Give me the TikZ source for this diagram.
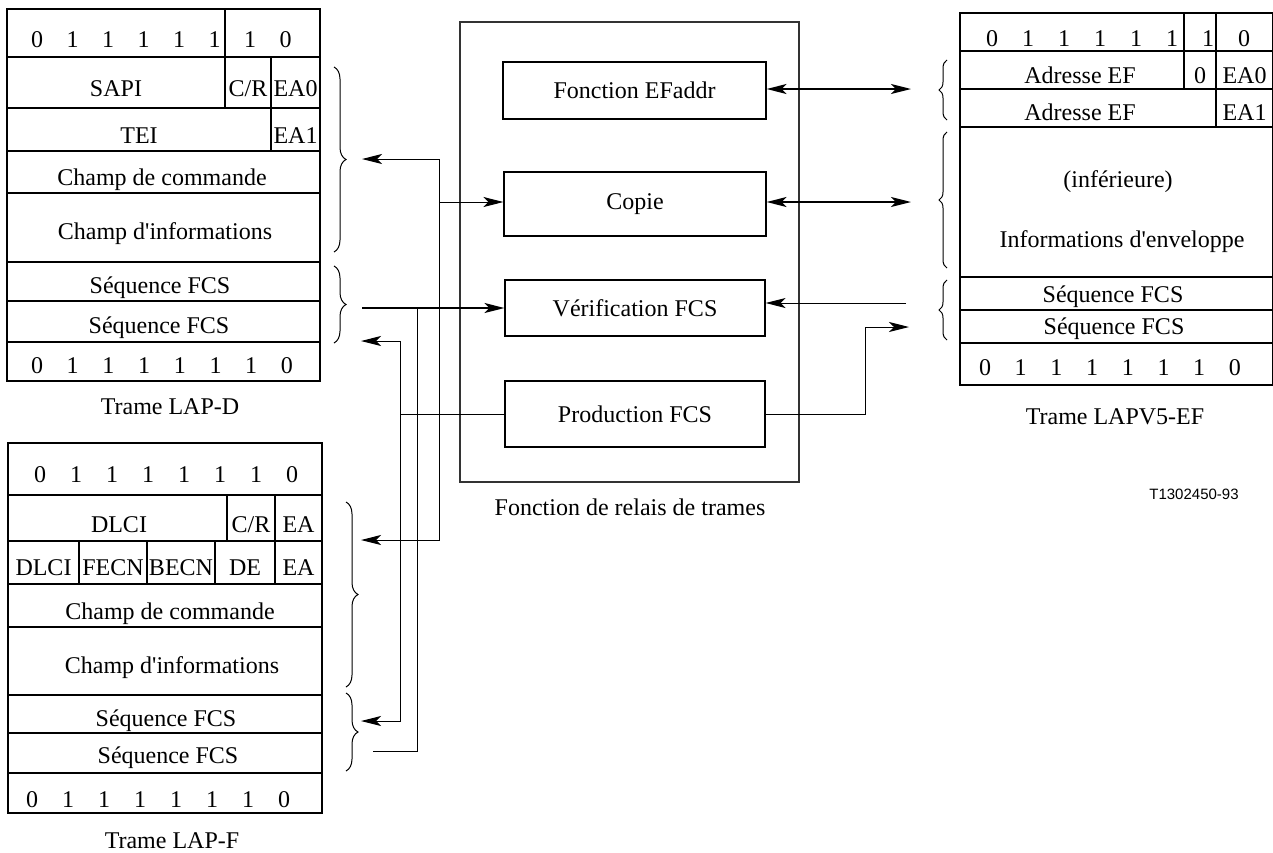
\documentclass[tikz,border=0pt]{standalone}
\usepackage{fontspec}
\setmainfont{Liberation Serif}
\newfontfamily\figsans{Liberation Sans}
\usetikzlibrary{arrows.meta,decorations.pathreplacing,fit,calc}

\begin{document}
\begin{tikzpicture}[x=1pt,y=-1pt,
  >={Stealth[length=20pt,width=10pt,inset=5pt]},
  every node/.style={font=\fontsize{24}{28}\selectfont},
  fieldcell/.style={draw, line width=1.5pt, inner sep=0pt, outer sep=0pt},
  ftxt/.style={anchor=base, inner sep=0pt},
  funcbox/.style={draw, line width=1.1pt, inner sep=0pt},
  relaybox/.style={draw=black!80, line width=1.1pt, inner sep=0pt},
  wire/.style={line width=1pt},
  heavywire/.style={line width=1.8pt},
  bracel/.style={decorate, decoration={brace, amplitude=12pt}, line width=1pt},
  bracer/.style={decorate, decoration={brace, amplitude=8pt}, line width=1pt},
]
\useasboundingbox (0,0) rectangle (1273,852);

% ---------------- LAP-D frame ----------------
\node[fieldcell, fit={(7,9) (225,57)}] (lapd-flagA) {};
\node[fieldcell, fit={(225,9) (320,57)}] (lapd-flagB) {};
\node[fieldcell, fit={(7,57) (225,108)}] (lapd-sapi) {};
\node[fieldcell, fit={(225,57) (271,108)}] (lapd-cr) {};
\node[fieldcell, fit={(271,57) (320,108)}] (lapd-ea0) {};
\node[fieldcell, fit={(7,108) (271,151)}] (lapd-tei) {};
\node[fieldcell, fit={(271,108) (320,151)}] (lapd-ea1) {};
\node[fieldcell, fit={(7,151) (320,193)}] (lapd-cmd) {};
\node[fieldcell, fit={(7,193) (320,262)}] (lapd-info) {};
\node[fieldcell, fit={(7,262) (320,301)}] (lapd-fcs1) {};
\node[fieldcell, fit={(7,301) (320,342)}] (lapd-fcs2) {};
\node[fieldcell, fit={(7,342) (320,381)}] (lapd-flagE) {};

\foreach \d [count=\i from 0] in {0,1,1,1,1,1,1,0}
  \node[ftxt] (lapd-top-\i) at ({37+35.5*\i},47) {\d};
\node[ftxt] (lapd-sapi-t) at (116,96) {SAPI};
\node[ftxt] (lapd-cr-t) at (248,96) {C/R};
\node[ftxt] (lapd-ea0-t) at (295.5,96) {EA0};
\node[ftxt] (lapd-tei-t) at (139,143) {TEI};
\node[ftxt] (lapd-ea1-t) at (295.5,143) {EA1};
\node[ftxt] (lapd-cmd-t) at (162,185) {Champ de commande};
\node[ftxt] (lapd-info-t) at (165,239) {Champ d\textquotesingle informations};
\node[ftxt] (lapd-fcs1-t) at (160,293) {Séquence FCS};
\node[ftxt] (lapd-fcs2-t) at (159,333) {Séquence FCS};
\foreach \d [count=\i from 0] in {0,1,1,1,1,1,1,0}
  \node[ftxt] (lapd-bot-\i) at ({37+35.7*\i},373) {\d};
\node[ftxt] (lapd-cap) at (170,414) {Trame LAP-D};

\draw[bracel] (334,67) -- (334,252);
\draw[bracel] (334,266) -- (334,343);

% ---------------- LAP-F frame ----------------
\node[fieldcell, fit={(8,443) (322,495)}] (lapf-flagA) {};
\node[fieldcell, fit={(8,495) (227,541)}] (lapf-dlci1) {};
\node[fieldcell, fit={(227,495) (275,541)}] (lapf-cr) {};
\node[fieldcell, fit={(275,495) (322,541)}] (lapf-ea1) {};
\node[fieldcell, fit={(8,541) (79,584)}] (lapf-dlci2) {};
\node[fieldcell, fit={(79,541) (147,584)}] (lapf-fecn) {};
\node[fieldcell, fit={(147,541) (215,584)}] (lapf-becn) {};
\node[fieldcell, fit={(215,541) (275,584)}] (lapf-de) {};
\node[fieldcell, fit={(275,541) (322,584)}] (lapf-ea2) {};
\node[fieldcell, fit={(8,584) (322,627)}] (lapf-cmd) {};
\node[fieldcell, fit={(8,627) (322,695)}] (lapf-info) {};
\node[fieldcell, fit={(8,695) (322,733)}] (lapf-fcs1) {};
\node[fieldcell, fit={(8,733) (322,773)}] (lapf-fcs2) {};
\node[fieldcell, fit={(8,773) (322,813)}] (lapf-flagE) {};

\foreach \d [count=\i from 0] in {0,1,1,1,1,1,1,0}
  \node[ftxt] (lapf-top-\i) at ({40+36*\i},482) {\d};
\node[ftxt] (lapf-dlci1-t) at (119,532) {DLCI};
\node[ftxt] (lapf-cr-t) at (251,532) {C/R};
\node[ftxt] (lapf-ea1-t) at (298.5,532) {EA};
\node[ftxt] (lapf-dlci2-t) at (43.5,575) {DLCI};
\node[ftxt] (lapf-fecn-t) at (113,575) {FECN};
\node[ftxt] (lapf-becn-t) at (181,575) {BECN};
\node[ftxt] (lapf-de-t) at (245,575) {DE};
\node[ftxt] (lapf-ea2-t) at (298.5,575) {EA};
\node[ftxt] (lapf-cmd-t) at (170,619) {Champ de commande};
\node[ftxt] (lapf-info-t) at (172,673) {Champ d\textquotesingle informations};
\node[ftxt] (lapf-fcs1-t) at (166,726) {Séquence FCS};
\node[ftxt] (lapf-fcs2-t) at (168,763) {Séquence FCS};
\foreach \d [count=\i from 0] in {0,1,1,1,1,1,1,0}
  \node[ftxt] (lapf-bot-\i) at ({32+36*\i},807) {\d};
\node[ftxt] (lapf-cap) at (172,848) {Trame LAP-F};

\draw[bracel] (346,502) -- (346,687);
\draw[bracel] (346,693) -- (346,771);

% ---------------- LAPV5-EF frame ----------------
\node[fieldcell, fit={(960,13) (1184,51)}] (v5-flagA) {};
\node[fieldcell, fit={(1184,13) (1216,51)}] (v5-flagB) {};
\node[fieldcell, fit={(1216,13) (1273,51)}] (v5-flagC) {};
\node[fieldcell, fit={(960,51) (1184,89)}] (v5-addr1) {};
\node[fieldcell, fit={(1184,51) (1216,89)}] (v5-zero) {};
\node[fieldcell, fit={(1216,51) (1273,89)}] (v5-ea0) {};
\node[fieldcell, fit={(960,89) (1216,127)}] (v5-addr2) {};
\node[fieldcell, fit={(1216,89) (1273,127)}] (v5-ea1) {};
\node[fieldcell, fit={(960,127) (1273,277)}] (v5-info) {};
\node[fieldcell, fit={(960,277) (1273,310)}] (v5-fcs1) {};
\node[fieldcell, fit={(960,310) (1273,343)}] (v5-fcs2) {};
\node[fieldcell, fit={(960,343) (1273,385)}] (v5-flagE) {};

\foreach \d [count=\i from 0] in {0,1,1,1,1,1,1,0}
  \node[ftxt] (v5-top-\i) at ({992+36*\i},46) {\d};
\node[ftxt] (v5-addr1-t) at (1080,83) {Adresse EF};
\node[ftxt] (v5-zero-t) at (1200,83) {0};
\node[ftxt] (v5-ea0-t) at (1244.5,83) {EA0};
\node[ftxt] (v5-addr2-t) at (1080,120) {Adresse EF};
\node[ftxt] (v5-ea1-t) at (1244.5,120) {EA1};
\node[ftxt] (v5-info1-t) at (1118,187) {(inférieure)};
\node[ftxt] (v5-info2-t) at (1122,247) {Informations d\textquotesingle enveloppe};
\node[ftxt] (v5-fcs1-t) at (1113,302) {Séquence FCS};
\node[ftxt] (v5-fcs2-t) at (1114,334) {Séquence FCS};
\foreach \d [count=\i from 0] in {0,1,1,1,1,1,1,0}
  \node[ftxt] (v5-bot-\i) at ({985+35.7*\i},375) {\d};
\node[ftxt] (v5-cap) at (1115,424) {Trame LAPV5-EF};

\draw[bracer] (947,120) -- (947,60);
\draw[bracer] (947,268) -- (947,132);
\draw[bracer] (947,340) -- (947,280);

% ---------------- frame relay function ----------------
\node[relaybox, fit={(460,22) (799,482)}] (relay) {};
\node[ftxt] (relay-t) at (630,515) {Fonction de relais de trames};

\node[funcbox, minimum width=263pt, minimum height=57pt] (efaddr) at (634.5,90.5) {Fonction EFaddr};
\node[funcbox, minimum width=262pt, minimum height=64pt] (copie) at (635,204) {Copie};
\node[funcbox, minimum width=260pt, minimum height=56pt] (verif) at (635,308) {Vérification FCS};
\node[funcbox, minimum width=260pt, minimum height=66pt] (prod) at (635,414) {Production FCS};

\node[ftxt, font=\figsans\fontsize{15}{18}\selectfont] (ref) at (1194,499) {T1302450-93};

% ---------------- connectors ----------------
\coordinate (lapdA) at (362,159);
\coordinate (lapdB) at (362,308);
\coordinate (lapdC) at (361,341);
\coordinate (lapfA) at (361,540);
\coordinate (lapfB) at (361,721);
\coordinate (lapfC) at (373,751);
\coordinate (v5A) at (911,89);
\coordinate (v5B) at (911,202);
\coordinate (v5C) at (906,303);
\coordinate (v5D) at (909,327);
\coordinate (jc) at (439,202);
\coordinate (jv) at (417,308);
\coordinate (jp) at (400,414);
\coordinate (jr) at (865,414);

\draw[heavywire,<->] (efaddr.east |- v5A) -- (v5A);
\draw[heavywire,<->] (copie.east |- v5B) -- (v5B);
\draw[wire,<->] (lapdA) -| (jc) -- (jc -| copie.west);
\draw[wire,->] (jc) |- (lapfA);
\draw[heavywire,->] (lapdB) -- (lapdB -| verif.west);
\draw[wire] (jv) |- (lapfC);
\draw[wire,->] (v5C) -- (v5C -| verif.east);
\draw[wire] (prod.west) -- (jp);
\draw[wire,->] (jp) |- (lapdC);
\draw[wire,->] (jp) |- (lapfB);
\draw[wire,->] (prod.east) -- (jr) |- (v5D);
\end{tikzpicture}
\end{document}
